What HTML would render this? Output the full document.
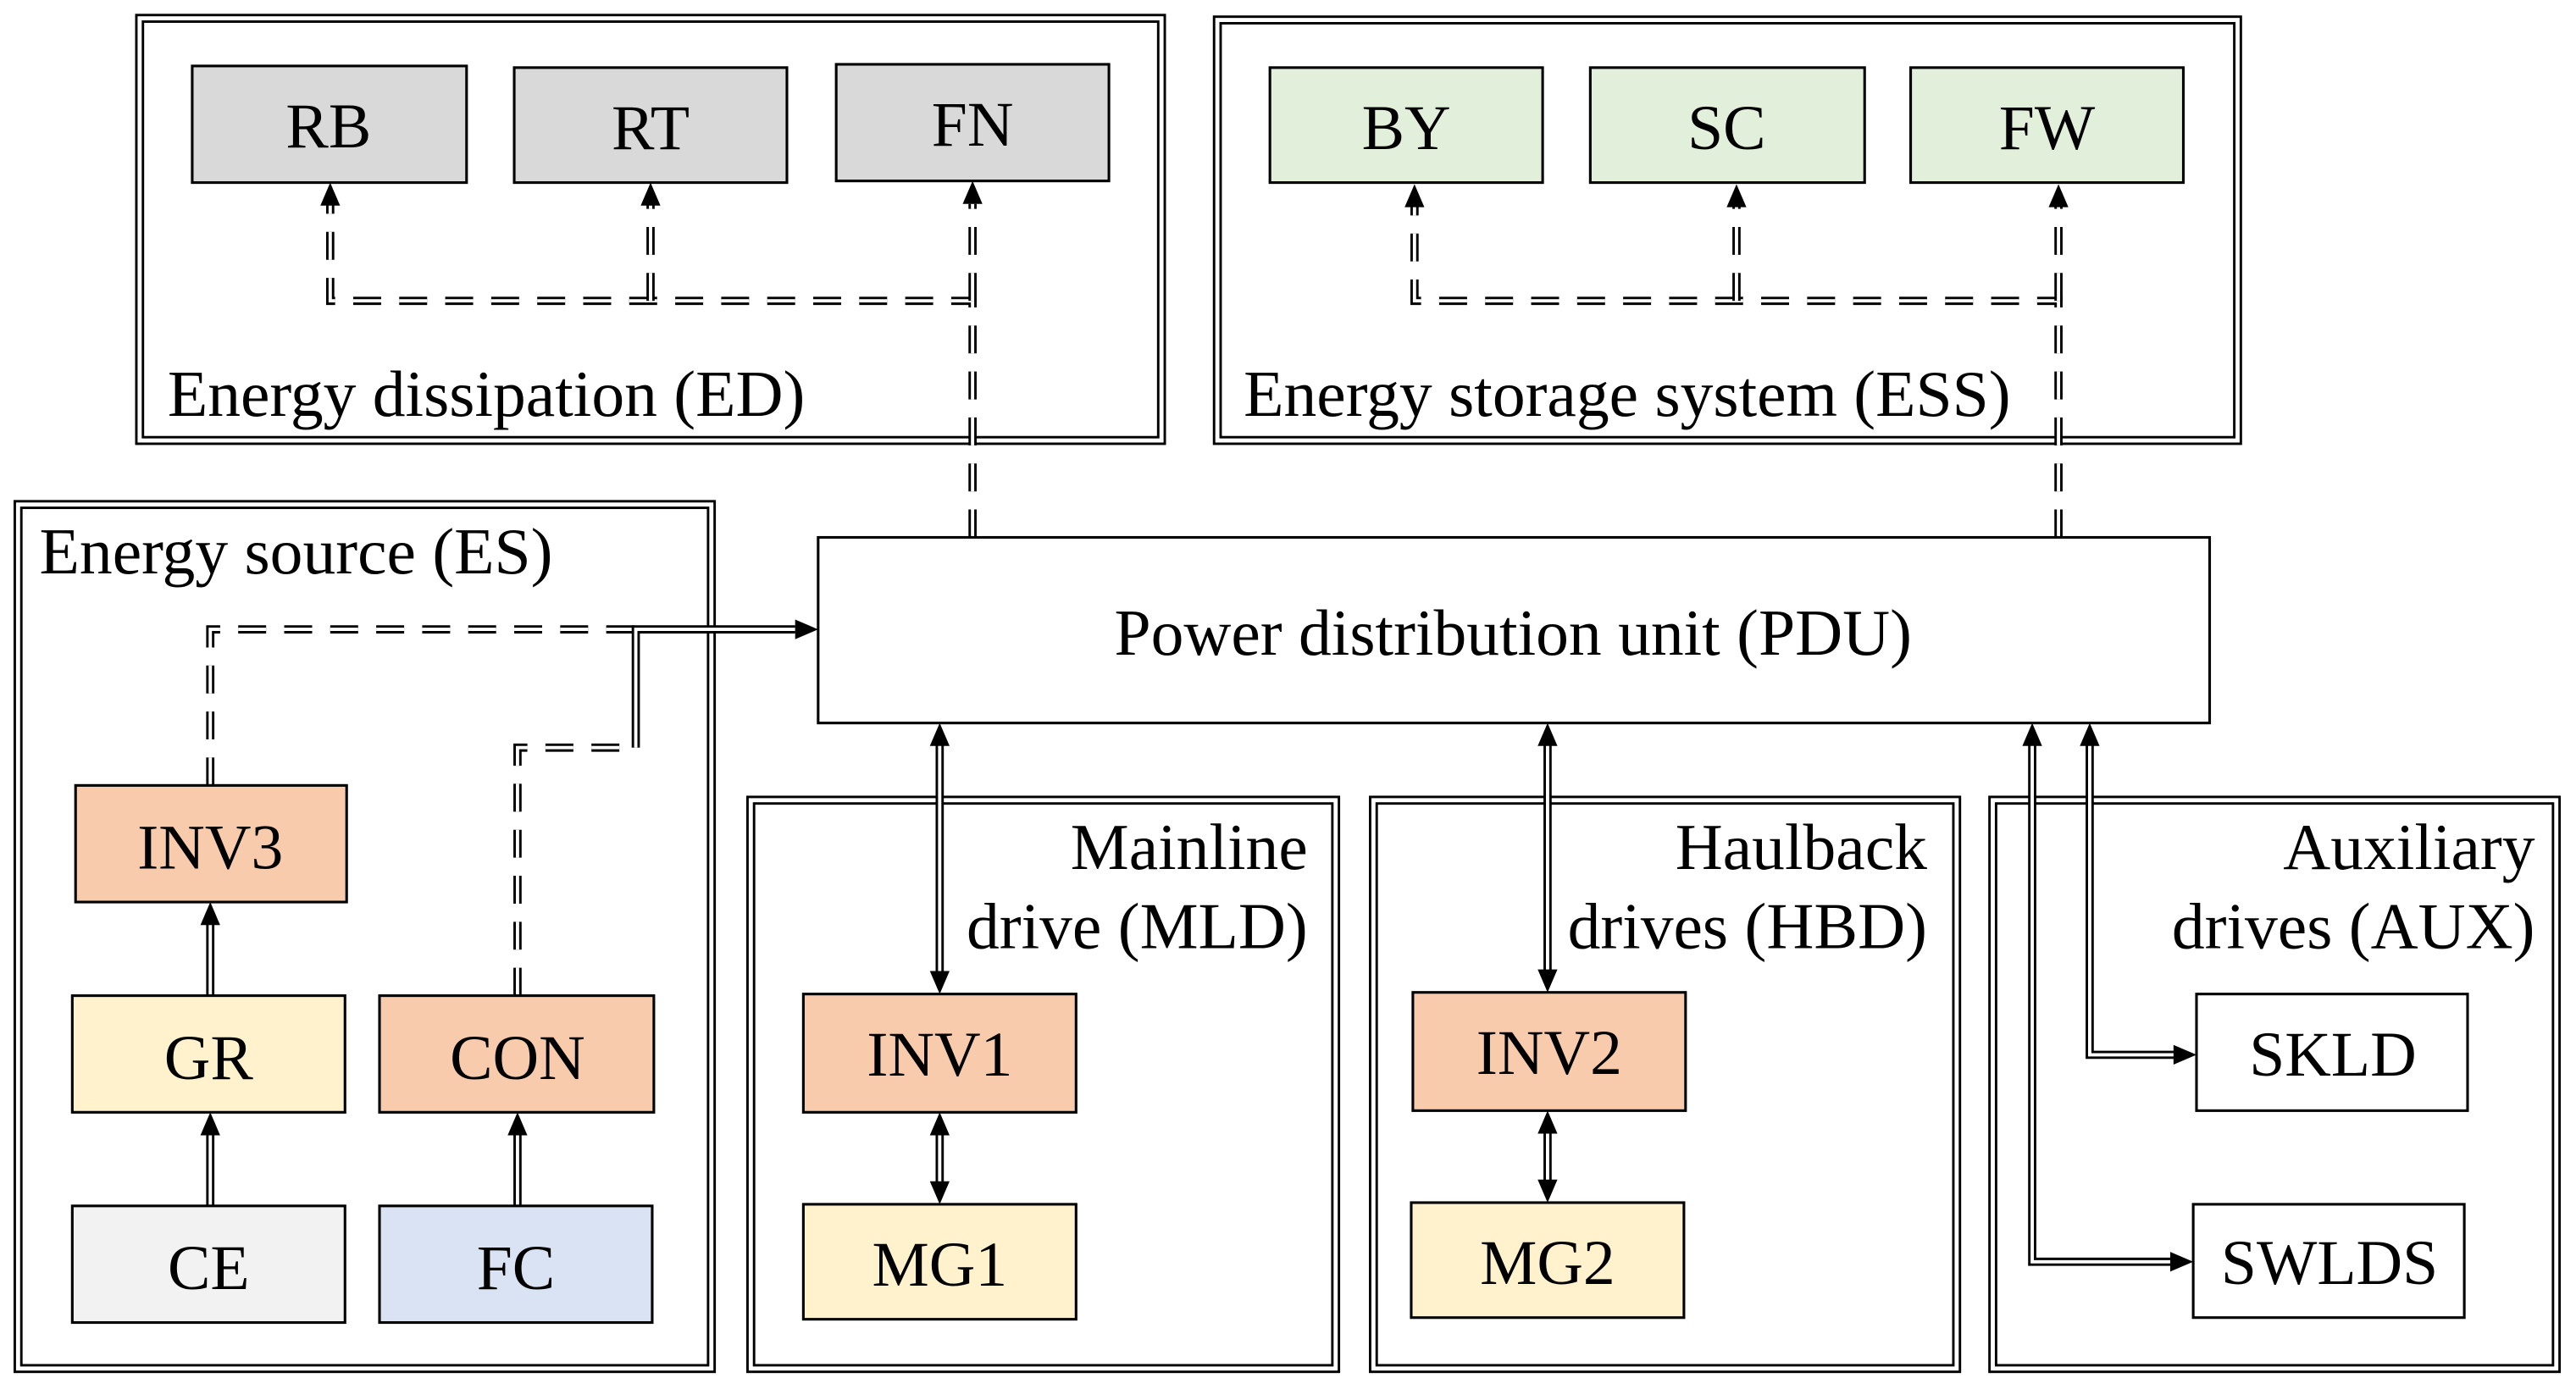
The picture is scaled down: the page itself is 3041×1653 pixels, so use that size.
<!DOCTYPE html>
<html><head><meta charset="utf-8"><style>
html,body{margin:0;padding:0;background:#fff}
svg{display:block}
text{font-family:"Liberation Serif",serif;fill:#000}
.b{font-size:39px;text-anchor:middle;dominant-baseline:central}
.l{font-size:40px}
.bx{stroke:#000;stroke-width:1.6}
.ob{fill:none;stroke:#000;stroke-width:1.5}
.dl{fill:none;stroke:#000;stroke-width:5}
.dw{fill:none;stroke:#fff;stroke-width:2}
.ds{stroke-dasharray:17 11}
</style></head><body>
<svg width="3041" height="1653" viewBox="0 0 1568 852" xmlns="http://www.w3.org/2000/svg">
<g>
<rect class="ob" x="83" y="9" width="626" height="261"/><rect class="ob" x="87" y="13" width="618" height="253"/>
<rect class="ob" x="739" y="10" width="625" height="260"/><rect class="ob" x="743" y="14" width="617" height="252"/>
<rect class="ob" x="9" y="305" width="426" height="530"/><rect class="ob" x="13" y="309" width="418" height="522"/>
<rect class="ob" x="455" y="485" width="360" height="350"/><rect class="ob" x="459" y="489" width="352" height="342"/>
<rect class="ob" x="834" y="485" width="359" height="350"/><rect class="ob" x="838" y="489" width="351" height="342"/>
<rect class="ob" x="1211" y="485" width="347" height="350"/><rect class="ob" x="1215" y="489" width="339" height="342"/>
</g>
<g>
<path class="dl ds" d="M592,327 V183 H201 V124"/><path class="dw ds" d="M592,327 V183 H201 V124"/>
<path class="dl ds" d="M396,183 V124"/><path class="dw ds" d="M396,183 V124"/>
<path class="dl ds" d="M592,183 V124"/><path class="dw ds" d="M592,183 V124"/>
<path class="dl ds" d="M1253,327 V183 H861 V124"/><path class="dw ds" d="M1253,327 V183 H861 V124"/>
<path class="dl ds" d="M1057,183 V124"/><path class="dw ds" d="M1057,183 V124"/>
<path class="dl ds" d="M1253,183 V124"/><path class="dw ds" d="M1253,183 V124"/>
<path class="dl ds" d="M128,478 V383 H387"/><path class="dw ds" d="M128,478 V383 H387"/>
<path class="dl ds" d="M315,606 V455 H387"/><path class="dw ds" d="M315,606 V455 H387"/>
<path class="dl" d="M387,455 V383 H484"/><path class="dw" d="M387,455 V383 H484"/>
<path class="dl" d="M128,606 V562 M128,734 V690 M315,734 V690"/><path class="dw" d="M128,606 V562 M128,734 V690 M315,734 V690"/>
<path class="dl" d="M572,453 V592 M572,690 V720 M942,453 V591 M942,689 V719"/><path class="dw" d="M572,453 V592 M572,690 V720 M942,453 V591 M942,689 V719"/>
<path class="dl" d="M1237,453 V768 H1322 M1272,453 V642 H1324"/><path class="dw" d="M1237,453 V768 H1322 M1272,453 V642 H1324"/>
</g>
<g fill="#000">
<path d="M195,125 L201,111 L207,125z"/><path d="M390,125 L396,111 L402,125z"/><path d="M586,124 L592,110 L598,124z"/>
<path d="M855,126 L861,112 L867,126z"/><path d="M1051,126 L1057,112 L1063,126z"/><path d="M1247,126 L1253,112 L1259,126z"/>
<path d="M484,377 L498,383 L484,389z"/>
<path d="M122,563 L128,549 L134,563z"/><path d="M122,691 L128,677 L134,691z"/><path d="M309,691 L315,677 L321,691z"/>
<path d="M566,454 L572,440 L578,454z"/><path d="M566,591 L572,605 L578,591z"/>
<path d="M566,691 L572,677 L578,691z"/><path d="M566,719 L572,733 L578,719z"/>
<path d="M936,454 L942,440 L948,454z"/><path d="M936,590 L942,604 L948,590z"/>
<path d="M936,690 L942,676 L948,690z"/><path d="M936,718 L942,732 L948,718z"/>
<path d="M1231,454 L1237,440 L1243,454z"/><path d="M1266,454 L1272,440 L1278,454z"/>
<path d="M1321,762 L1335,768 L1321,774z"/><path d="M1323,636 L1337,642 L1323,648z"/>
</g>
<g class="bx">
<rect x="117" y="40" width="167" height="71" fill="#d9d9d9"/>
<rect x="313" y="41" width="166" height="70" fill="#d9d9d9"/>
<rect x="509" y="39" width="166" height="71" fill="#d9d9d9"/>
<rect x="773" y="41" width="166" height="70" fill="#e2efda"/>
<rect x="968" y="41" width="167" height="70" fill="#e2efda"/>
<rect x="1163" y="41" width="166" height="70" fill="#e2efda"/>
<rect x="498" y="327" width="847" height="113" fill="#fff"/>
<rect x="46" y="478" width="165" height="71" fill="#f8cbad"/>
<rect x="44" y="606" width="166" height="71" fill="#fff2cc"/>
<rect x="231" y="606" width="167" height="71" fill="#f8cbad"/>
<rect x="44" y="734" width="166" height="71" fill="#f2f2f2"/>
<rect x="231" y="734" width="166" height="71" fill="#dae3f3"/>
<rect x="489" y="605" width="166" height="72" fill="#f8cbad"/>
<rect x="489" y="733" width="166" height="70" fill="#fff2cc"/>
<rect x="860" y="604" width="166" height="72" fill="#f8cbad"/>
<rect x="859" y="732" width="166" height="70" fill="#fff2cc"/>
<rect x="1337" y="605" width="165" height="71" fill="#fff"/>
<rect x="1335" y="733" width="165" height="69" fill="#fff"/>
</g>
<g class="b">
<text x="200" y="77">RB</text><text x="396" y="78">RT</text><text x="592" y="76">FN</text>
<text x="856" y="78">BY</text><text x="1051" y="78">SC</text><text x="1246" y="78">FW</text>
<text x="128" y="516">INV3</text><text x="127" y="644">GR</text><text x="315" y="644">CON</text>
<text x="127" y="772">CE</text><text x="314" y="772">FC</text>
<text x="572" y="642">INV1</text><text x="572" y="770">MG1</text>
<text x="943" y="641">INV2</text><text x="942" y="769">MG2</text>
<text x="1420" y="642">SKLD</text><text x="1418" y="769">SWLDS</text>
<text x="921" y="385" style="font-size:40px">Power distribution unit (PDU)</text>
</g>
<g class="l">
<text x="102" y="253">Energy dissipation (ED)</text>
<text x="757" y="253">Energy storage system (ESS)</text>
<text x="24" y="349">Energy source (ES)</text>
<text x="796" y="529" text-anchor="end">Mainline</text>
<text x="796" y="577" text-anchor="end">drive (MLD)</text>
<text x="1173" y="529" text-anchor="end">Haulback</text>
<text x="1173" y="577" text-anchor="end">drives (HBD)</text>
<text x="1543" y="529" text-anchor="end">Auxiliary</text>
<text x="1543" y="577" text-anchor="end">drives (AUX)</text>
</g>
</svg>
</body></html>
